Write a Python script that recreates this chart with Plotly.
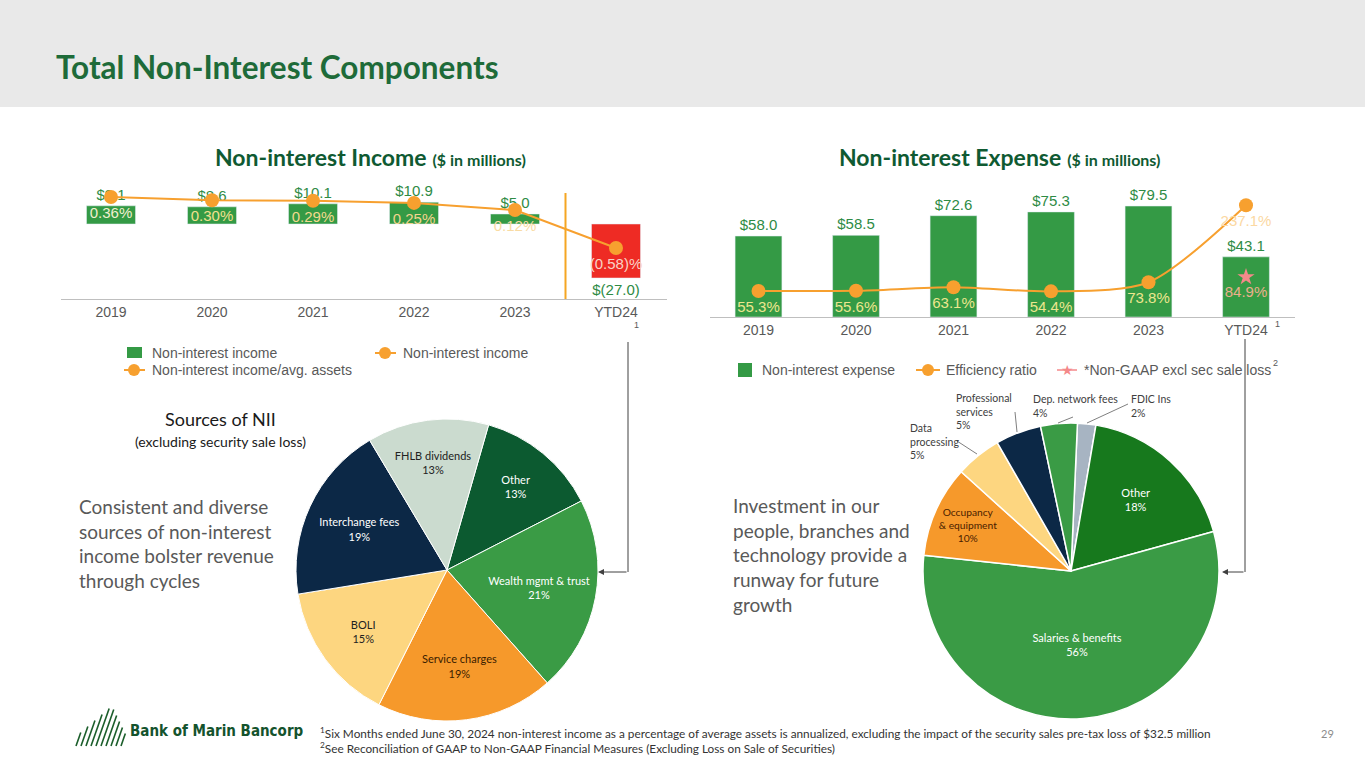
import plotly.graph_objects as go

# Werte aus der Folie
years = ["2019", "2020", "2021", "2022", "2023", "YTD24"]
nii_income = [9.1, 8.6, 10.1, 10.9, 5.0, -27.0]
nii_ratio = [0.36, 0.30, 0.29, 0.25, 0.12, -0.58]
nie_expense = [58.0, 58.5, 72.6, 75.3, 79.5, 43.1]
eff_ratio = [55.3, 55.6, 63.1, 54.4, 73.8, 237.1]
nongaap_ytd = 84.9

nii_sources = ["Other", "Wealth mgmt & trust", "Service charges", "BOLI", "Interchange fees", "FHLB dividends"]
nii_shares = [13, 21, 19, 15, 19, 13]

nie_sources = ["FDIC Ins", "Other", "Salaries & benefits", "Occupancy<br>& equipment",
               "Data<br>processing", "Professional<br>services", "Dep. network fees"]
nie_shares = [2, 18, 56, 10, 5, 5, 4]

W, H = 1365, 768
CHART_FONT = "Liberation Sans, Arial, sans-serif"
SLIDE_FONT = "Lato, Open Sans, sans-serif"
GREEN = "#349a45"
RED = "#ee2b24"
ORANGE = "#f7a02f"
TXT_GREEN = "#2e8b45"
GRAY_TXT = "#595959"


def X(px):
    return px / W


def Y(py):
    return 1 - py / H


def money(v):
    return f"${v:.1f}" if v >= 0 else f"$({-v:.1f})"


def pct(v, d=2):
    return f"{v:.{d}f}%" if v >= 0 else f"({-v:.{d}f})%"


fig = go.Figure()

# linkes Diagramm: Non-interest income
fig.add_trace(go.Bar(
    x=years, y=nii_income, xaxis="x", yaxis="y", width=0.485,
    marker_color=[GREEN] * 5 + [RED],
    text=[money(v) for v in nii_income], textposition="outside",
    textfont=dict(family=CHART_FONT, size=15, color=TXT_GREEN),
    constraintext="none", cliponaxis=False, showlegend=False, hoverinfo="skip"))
fig.add_trace(go.Scatter(
    x=years, y=nii_ratio, xaxis="x", yaxis="y2", mode="lines+markers+text",
    line=dict(color=ORANGE, width=2), marker=dict(size=14, color=ORANGE),
    text=[pct(v) for v in nii_ratio], textposition="bottom center",
    textfont=dict(family=CHART_FONT, size=15,
                  color=["#f1efcf", "#f2e08e", "#f2d98e", "#f3d48f", "#f9dba3", "#f9d3c6"]),
    cliponaxis=False, showlegend=False, hoverinfo="skip"))

# rechtes Diagramm: Non-interest expense
fig.add_trace(go.Bar(
    x=years, y=nie_expense, xaxis="x2", yaxis="y3", width=0.48,
    marker_color=GREEN,
    text=[money(v) for v in nie_expense], textposition="outside",
    textfont=dict(family=CHART_FONT, size=15, color=TXT_GREEN),
    constraintext="none", cliponaxis=False, showlegend=False, hoverinfo="skip"))
fig.add_trace(go.Scatter(
    x=years, y=eff_ratio, xaxis="x2", yaxis="y4", mode="lines+markers+text",
    line=dict(color=ORANGE, width=2, shape="spline", smoothing=0.8),
    marker=dict(size=14, color=ORANGE),
    text=[pct(v, 1) for v in eff_ratio], textposition="bottom center",
    textfont=dict(family=CHART_FONT, size=15,
                  color=["#ece68e"] * 5 + ["#fbd8a2"]),
    cliponaxis=False, showlegend=False, hoverinfo="skip"))
fig.add_trace(go.Scatter(
    x=["YTD24"], y=[nongaap_ytd], xaxis="x2", yaxis="y4", mode="markers+text",
    marker=dict(symbol="star", size=13, color="#f4898a"),
    text=[pct(nongaap_ytd, 1)], textposition="bottom center",
    textfont=dict(family=CHART_FONT, size=15, color="#eab08c"),
    cliponaxis=False, showlegend=False, hoverinfo="skip"))

# Tortendiagramme
fig.add_trace(go.Pie(
    labels=nii_sources, values=nii_shares, sort=False, direction="clockwise", rotation=16,
    domain=dict(x=[X(296), X(598)], y=[Y(721), Y(419)]),
    marker=dict(colors=["#0c5a30", "#3a9b45", "#f6992b", "#fdd680", "#0c2846", "#cbdbcf"],
                line=dict(color="white", width=1)),
    textinfo="none", texttemplate="%{label}<br>%{value}%", textposition="inside",
    insidetextorientation="horizontal",
    textfont=dict(family=SLIDE_FONT, size=11,
                  color=["white", "white", "#3a2000", "#222222", "white", "#222222"]),
    showlegend=False, hoverinfo="skip"))
fig.add_trace(go.Pie(
    labels=nie_sources, values=nie_shares, sort=False, direction="clockwise", rotation=2.5,
    domain=dict(x=[X(923), X(1219)], y=[Y(719), Y(423)]),
    marker=dict(colors=["#a7b4c2", "#17791d", "#3a9b45", "#f6992b", "#fdd680", "#0c2846", "#3a9b45"],
                line=dict(color="white", width=1.5)),
    textinfo="none", texttemplate="%{label}<br>%{value}%",
    textposition=["none", "inside", "inside", "inside", "none", "none", "none"],
    insidetextorientation="horizontal",
    textfont=dict(family=SLIDE_FONT, size=11,
                  color=["#333333", "white", "white", "#4a1d00", "#333333", "#333333", "#333333"]),
    showlegend=False, hoverinfo="skip"))

axis_common = dict(type="category", showgrid=False, zeroline=False, ticks="",
                   showline=True, linecolor="#bfbfbf", linewidth=1,
                   tickfont=dict(family=CHART_FONT, size=14, color=GRAY_TXT), fixedrange=True)
hidden = dict(visible=False, showgrid=False, zeroline=False, fixedrange=True)

fig.update_layout(
    width=W, height=H, margin=dict(l=0, r=0, t=0, b=0),
    paper_bgcolor="white", plot_bgcolor="rgba(0,0,0,0)",
    xaxis=dict(domain=[X(60.5), X(666.5)], anchor="y", **axis_common),
    yaxis=dict(domain=[Y(299), Y(180)], range=[-37.5, 22], anchor="x", **hidden),
    yaxis2=dict(overlaying="y", range=[-1.519, 0.672], anchor="x", **hidden),
    xaxis2=dict(domain=[X(709.75), X(1294.75)], anchor="y3", **axis_common),
    yaxis3=dict(domain=[Y(317), Y(185)], range=[0, 94.6], anchor="x2", **hidden),
    yaxis4=dict(overlaying="y3", range=[0, 280], anchor="x2", **hidden),
)

shapes = []
# Kopfzeile
shapes.append(dict(type="rect", xref="paper", yref="paper", x0=0, x1=1, y0=Y(107), y1=1,
                   fillcolor="#e9e9e9", line=dict(width=0), layer="below"))
# senkrechte Trennlinie vor YTD24
shapes.append(dict(type="line", xref="x", yref="paper", x0=4.5, x1=4.5, y0=Y(299), y1=Y(193),
                   line=dict(color="#f5a623", width=2)))


def pline(x0, y0, x1, y1, color="#404040", width=1):
    shapes.append(dict(type="line", xref="paper", yref="paper", x0=X(x0), y0=Y(y0),
                       x1=X(x1), y1=Y(y1), line=dict(color=color, width=width)))


def prect(x0, y0, x1, y1, color):
    shapes.append(dict(type="rect", xref="paper", yref="paper", x0=X(x0), y0=Y(y1),
                       x1=X(x1), y1=Y(y0), fillcolor=color, line=dict(width=0)))


def pcircle(cx, cy, r, color):
    shapes.append(dict(type="circle", xref="paper", yref="paper", x0=X(cx - r), x1=X(cx + r),
                       y0=Y(cy + r), y1=Y(cy - r), fillcolor=color, line=dict(width=0)))


# Legenden
prect(127, 347, 142, 358, GREEN)
pline(375, 353, 396, 353, ORANGE, 2)
pcircle(385, 353, 6, ORANGE)
pline(124, 370, 145, 370, ORANGE, 2)
pcircle(134, 370, 6, ORANGE)

prect(738, 363, 752, 377, GREEN)
pline(916, 370, 940, 370, ORANGE, 2)
pcircle(928, 370, 6, ORANGE)
pline(1057, 370, 1077, 370, "#f4898a", 1.5)

# Verbindungslinien zu den Torten
pline(628, 342, 628, 572)
pline(1245, 339, 1245, 572)

# Führungslinien rechte Torte
pline(957, 441, 977, 454, "#7f7f7f")
pline(1015, 412, 1017, 432, "#7f7f7f")
pline(1058, 423, 1073, 417, "#7f7f7f")
pline(1087, 423, 1128, 404, "#7f7f7f")

# Logo-Streifen
for i in range(10):
    bx = 76 + i * 5
    h = 40 - abs(bx - 98) * 1.2
    pline(bx, 746, bx + h * 0.35, 746 - h, "#1b5e2b", 1.6)

ann = []


def text(x, y, s, size, color, family=SLIDE_FONT, xanchor="left", yanchor="middle", align="left"):
    ann.append(dict(x=X(x), y=Y(y), xref="paper", yref="paper", text=s, showarrow=False,
                    xanchor=xanchor, yanchor=yanchor, align=align,
                    font=dict(family=family, size=size, color=color)))


text(54, 67, "<b>Total Non-Interest Components</b>", 31.5, "#1e6b39")
text(371, 157, "<b>Non-interest Income</b> <b><span style='font-size:16px'>($ in millions)</span></b>",
     23, "#0f5a32", xanchor="center")
text(1000, 157, "<b>Non-interest Expense</b> <b><span style='font-size:16px'>($ in millions)</span></b>",
     23, "#0f5a32", xanchor="center")

# Legendentexte
text(150, 353, "Non-interest income", 14, GRAY_TXT, CHART_FONT)
text(401, 353, "Non-interest income", 14, GRAY_TXT, CHART_FONT)
text(150, 370, "Non-interest income/avg. assets", 14, GRAY_TXT, CHART_FONT)
text(760, 370, "Non-interest expense", 14, GRAY_TXT, CHART_FONT)
text(944, 370, "Efficiency ratio", 14, GRAY_TXT, CHART_FONT)
text(1067, 370, "★", 14, "#f4898a", CHART_FONT, xanchor="center")
text(1082, 370, "*Non-GAAP excl sec sale loss", 14, GRAY_TXT, CHART_FONT)
text(1275, 363, "2", 9, GRAY_TXT, CHART_FONT, xanchor="center")
text(636, 325, "1", 9, GRAY_TXT, CHART_FONT, xanchor="center")
text(1277, 324, "1", 9, GRAY_TXT, CHART_FONT, xanchor="center")

# Texte links / rechts
text(220, 419, "Sources of NII", 18, "#1a1a1a", xanchor="center")
text(220, 441, "(excluding security sale loss)", 14, "#1a1a1a", xanchor="center")
text(77, 543, "Consistent and diverse<br>sources of non-interest<br>income bolster revenue<br>through cycles",
     19, GRAY_TXT)
text(731, 555, "Investment in our<br>people, branches and<br>technology provide a<br>runway for future<br>growth",
     19, GRAY_TXT)

# Außenbeschriftungen rechte Torte
for idx, (x, y) in {4: (908, 427), 5: (954, 397), 6: (1031, 398), 0: (1129, 398)}.items():
    lbl = nie_sources[idx]
    text(x, y - 7, f"{lbl}<br>{nie_shares[idx]}%", 10.5, "#404040", yanchor="top")

# Pfeile
for x_tip, x_tail in [(598, 628), (1222, 1245)]:
    ann.append(dict(x=X(x_tip), y=Y(572), xref="paper", yref="paper", text="", showarrow=True,
                    ax=x_tail - x_tip, ay=0, arrowhead=2, arrowsize=1.2, arrowwidth=1,
                    arrowcolor="#404040", standoff=0))

# Fußzeile
text(128, 731, "<b>Bank of Marin Bancorp</b>", 15, "#14532d", "DejaVu Sans Condensed, Liberation Sans Narrow, sans-serif")
text(318, 733, "<sup>1</sup>Six Months ended June 30, 2024 non-interest income as a percentage of average assets is "
     "annualized, excluding the impact of the security sales pre-tax loss of $32.5 million", 11.8, "#333333")
text(318, 748, "<sup>2</sup>See Reconciliation of GAAP to Non-GAAP Financial Measures (Excluding Loss on Sale of Securities)",
     11.8, "#333333")
text(1327, 733, "29", 11, "#8c8c8c", xanchor="center")

fig.update_layout(shapes=shapes, annotations=ann)

fig.write_html("out.html", config={"displayModeBar": False},
               post_script="document.body.style.margin='0';document.body.style.overflow='hidden';")
